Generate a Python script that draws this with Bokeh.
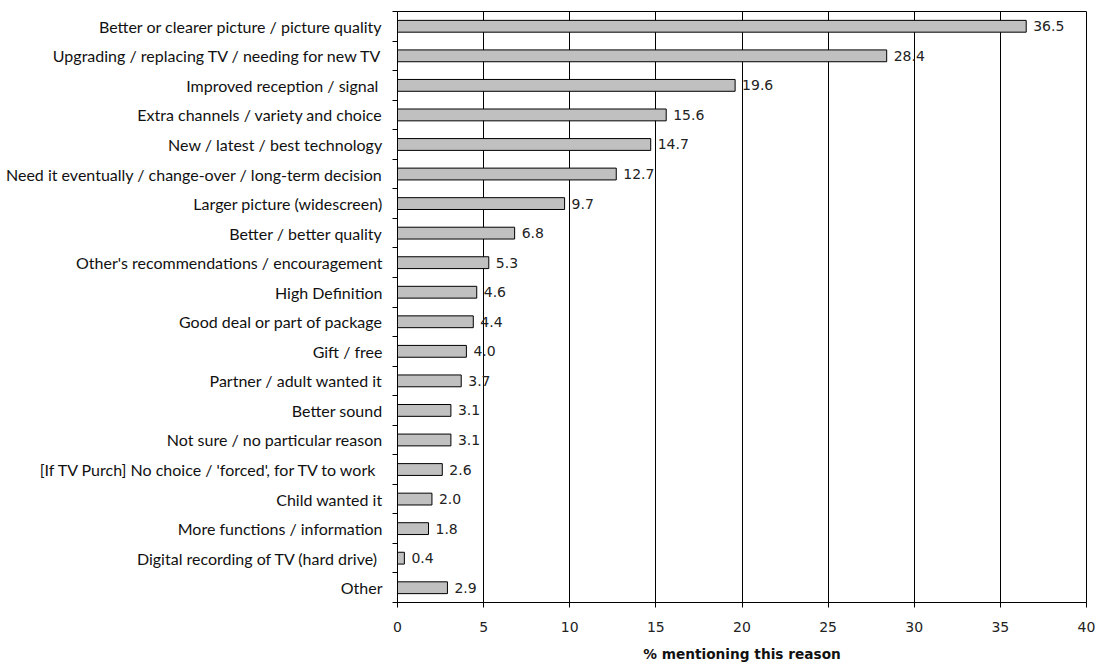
from bokeh.plotting import figure
from bokeh.models import ColumnDataSource, Range1d, FixedTicker
from bokeh.core.properties import value
from bokeh.embed import file_html
from bokeh.resources import INLINE

reasons = [
    "Better or clearer picture / picture quality",
    "Upgrading / replacing TV / needing for new TV",
    "Improved reception / signal ",
    "Extra channels / variety and choice",
    "New / latest / best technology",
    "Need it eventually / change-over / long-term decision",
    "Larger picture (widescreen)",
    "Better / better quality",
    "Other's recommendations / encouragement",
    "High Definition",
    "Good deal or part of package",
    "Gift / free",
    "Partner / adult wanted it",
    "Better sound",
    "Not sure / no particular reason",
    "[If TV Purch] No choice / 'forced', for TV to work ",
    "Child wanted it",
    "More functions / information",
    "Digital  recording of TV (hard drive)",
    "Other",
]
percent = [36.5, 28.4, 19.6, 15.6, 14.7, 12.7, 9.7, 6.8, 5.3, 4.6,
           4.4, 4.0, 3.7, 3.1, 3.1, 2.6, 2.0, 1.8, 0.4, 2.9]
x_ticks = [0, 5, 10, 15, 20, 25, 30, 35, 40]

n = len(reasons)
centers = [i + 0.5 for i in range(n)]
source = ColumnDataSource(dict(
    y=centers,
    pct=percent,
    label=[f"{v:.1f}" for v in percent],
))

p = figure(
    width=1099, height=664,
    x_range=Range1d(0, 40), y_range=Range1d(n, 0),
    output_backend="svg", toolbar_location=None,
    min_border_left=397, min_border_right=13,
    min_border_top=11, min_border_bottom=60,
)
p.background_fill_color = "white"
p.border_fill_color = "white"
p.outline_line_color = "black"
p.outline_line_width = 1

# vertical gridlines only
p.ygrid.grid_line_color = None
p.xgrid.grid_line_color = "black"
p.xgrid.grid_line_width = 1
p.xgrid.ticker = FixedTicker(ticks=x_ticks)

p.hbar(y="y", right="pct", left=0, height=0.4, source=source,
       fill_color="#C0C0C0", line_color="black", line_width=1)

p.text(x="pct", y="y", text="label", source=source,
       x_offset=7, text_align="left", text_baseline="middle",
       text_font=value("DejaVu Sans"), text_font_size="14px",
       text_color="#222222")

# x axis
xa = p.xaxis[0]
xa.ticker = FixedTicker(ticks=x_ticks)
xa.axis_line_color = "black"
xa.major_tick_in = 0
xa.major_tick_out = 5
xa.minor_tick_line_color = None
xa.major_label_text_font = "DejaVu Sans"
xa.major_label_text_font_size = "14px"
xa.major_label_text_color = "#222222"
xa.major_label_standoff = 14
xa.axis_label = "% mentioning this reason"
xa.axis_label_text_font = "DejaVu Sans"
xa.axis_label_text_font_style = "bold"
xa.axis_label_text_font_size = "13.7px"
xa.axis_label_text_color = "#111111"
xa.axis_label_standoff = 11

# y axis: labels at row centres, tick marks at row boundaries
ya = p.yaxis[0]
ya.ticker = FixedTicker(ticks=centers, minor_ticks=list(range(n + 1)))
ya.major_label_overrides = {c: r for c, r in zip(centers, reasons)}
ya.axis_line_color = "black"
ya.major_tick_in = 0
ya.major_tick_out = 0
ya.minor_tick_in = 0
ya.minor_tick_out = 5
ya.minor_tick_line_color = "black"
ya.major_label_text_font = "Lato"
ya.major_label_text_font_size = "16px"
ya.major_label_text_color = "#111111"
ya.major_label_standoff = 10

open("out.html", "w").write(file_html(p, INLINE))
